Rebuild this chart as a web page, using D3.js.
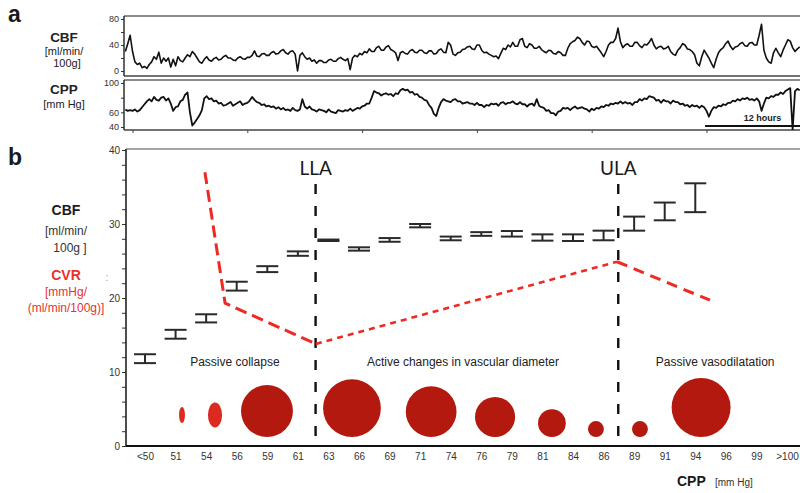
<!DOCTYPE html>
<html><head><meta charset="utf-8">
<script src="https://cdn.jsdelivr.net/npm/d3@7"></script>
<style>
body{margin:0;background:#fff}
svg{display:block;font-family:"Liberation Sans",Arial,Helvetica,sans-serif}
</style>
</head><body>
<svg id="chart" width="800" height="493"></svg>
<script>
// ---------- panel a: long-term recordings (sampled every 0.25 h from -0.8 h) ----------
const traceStart = -0.8, traceStep = 0.25;
const cbfTrace = [
  30,42,55,30,14,10,12,5,7,4, 10,14,22,18,29,12,20,15,20,6, 18,8,22,16,14,20,25,22,30,26,
  20,14,12,18,22,17,15,19,21,17, 18,22,24,20,20,17,16,20,22,19, 18,21,21,24,31,23,22,26,27,24,
  24,28,30,26,27,31,33,28,26,30, 31,26,0,24,28,22,18,20,15,17, 12,16,16,13,13,17,18,15,15,19,
  21,18,16,19,2,20,24,22,27,25, 30,28,34,30,30,36,38,32,32,37, 39,33,31,28,16,28,30,27,26,31,
  33,29,28,32,32,28,27,31,31,26, 27,32,34,29,28,44,40,26,24,28, 29,33,34,37,38,34,33,40,40,32,
  28,29,26,24,22,23,19,27,35,33, 40,37,44,38,38,48,50,38,36,42, 40,35,35,38,33,30,28,32,31,27,
  26,30,28,24,24,35,42,45,47,52, 50,44,40,46,45,38,36,38,33,28, 22,30,40,44,44,50,66,45,36,40,
  42,38,38,44,44,39,36,41,40,44, 50,40,34,37,38,34,35,38,30,26, 24,32,36,42,40,34,33,30,25,12,
  8,22,32,26,20,12,5,18,28,33, 36,42,46,38,33,37,38,42,44,39, 38,43,44,40,40,55,72,32,20,14,
  12,28,35,28,22,32,40,48,46,36, 30,34,37];
const cppTrace = [
  64,62,63,62,64,61,63,67,71,75, 78,75,81,77,76,80,81,76,79,72, 62,67,68,75,77,84,87,60,42,46,
  51,56,63,79,82,78,79,75,76,72, 73,69,70,72,74,69,71,73,75,70, 72,73,76,81,77,74,73,70,71,68,
  69,67,68,65,67,64,66,63,64,62, 66,63,62,64,78,68,65,68,64,63, 61,64,63,62,60,64,61,60,59,63,
  62,61,63,62,65,62,64,66,65,68, 69,72,72,80,89,87,86,83,85,86, 84,85,82,86,85,90,92,90,91,87,
  88,84,85,81,80,77,76,70,66,58, 55,66,74,78,76,75,74,77,78,75, 75,72,73,74,72,72,70,73,70,70,
  67,70,69,72,71,72,69,73,74,71, 73,73,75,72,71,74,71,71,68,71, 72,69,78,69,67,66,62,63,59,59,
  56,61,62,66,65,66,63,66,68,65, 66,67,65,64,61,65,63,66,65,68, 67,70,69,72,71,73,72,75,72,74,
  72,73,70,74,74,78,76,79,78,82, 81,80,76,77,73,77,75,75,72,76, 74,74,71,72,69,70,67,70,68,69,
  66,69,67,62,54,62,67,66,69,68, 71,70,73,73,76,75,78,76,79,78, 80,77,78,76,79,75,62,72,80,79,
  82,81,84,84,87,85,89,91,93,36, 89,92,90];
const timeTicks = [0,12,24,36,48,60];
const cbfTicksA = [0,20,40,60,80];
const cppTicksA = [40,60,80,100];

// ---------- panel b: CBF and CVR across CPP bins ----------
const cppBins = ["<50","51","54","56","59","61","63","66","69","71","74","76","79","81","84","86","89","91","94","96","99",">100"];
const cbfLow  = [11.2,14.5,16.7,21.0,23.5,25.7,27.7,26.4,27.6,29.55,27.8,28.4,28.3,27.75,27.7,27.8,29.1,30.5,31.6];
const cbfHigh = [12.4,15.7,17.8,22.2,24.3,26.3,27.9,26.85,28.1,30.0,28.3,28.9,29.05,28.6,28.6,29.1,31.0,32.9,35.5];
// CVR curve: position along the CPP bins and value
const cvrPos = [1.96,2.62,5.59,15.44,18.48];
const cvrVal = [37.0,19.3,13.8,24.9,19.7];
// autoregulation limits, as positions along the CPP bins
const limitNames = ["LLA","ULA"];
const limitPos = [5.58,15.48];
// vessel cross-sections (relative diameters, % of largest)
const vesselPos = [1.21,2.29,3.99,6.77,9.36,11.45,13.31,14.75,16.19,18.19];
const vesselW   = [10,24,88,98,86,68,47,27,27,100];
const vesselH   = [27,42,88,98,86,68,47,27,27,100];
const regionNames = ["Passive collapse","Active changes in vascular diameter","Passive vasodilatation"];
const regionPos = [2.94,10.4,18.65];
const yTicksB = d3.range(0,41,2);

const svg = d3.select("#chart");
const ink = "#1a1a1a";

// ===== panel a =====
const xT = d3.scaleLinear().domain([0,60]).range([133,707]);
const aLeft = 124, aRight = 800;
const cbfBox = {top:16,bottom:76}, cppBox = {top:80,bottom:130};
const yCbfA = d3.scaleLinear().domain([0,80]).range([71,19]);
const yCppA = d3.scaleLinear().domain([40,100]).range([127,83]);
const times = cbfTrace.map((_,i)=>traceStart + i*traceStep);

svg.append("text").attr("x",8).attr("y",22).attr("font-size",23).attr("font-weight","bold").attr("fill",ink).text("a");

const defs = svg.append("defs");
[["clipCbf",cbfBox],["clipCpp",cppBox]].forEach(([id,b])=>{
  defs.append("clipPath").attr("id",id).append("rect")
    .attr("x",aLeft).attr("y",b.top).attr("width",aRight-aLeft).attr("height",b.bottom-b.top);
});

function boxFrame(b){
  svg.append("line").attr("x1",aLeft).attr("x2",aRight).attr("y1",b.top).attr("y2",b.top)
    .attr("stroke","#666").attr("stroke-width",1.6);
  svg.append("line").attr("x1",aLeft).attr("x2",aRight).attr("y1",b.bottom).attr("y2",b.bottom)
    .attr("stroke","#444").attr("stroke-width",1.4);
}
boxFrame(cbfBox); boxFrame(cppBox);

const lineCbf = d3.line().x((d,i)=>xT(times[i])).y(d=>yCbfA(d));
const lineCpp = d3.line().x((d,i)=>xT(times[i])).y(d=>yCppA(d));
svg.append("path").datum(cbfTrace).attr("d",lineCbf).attr("clip-path","url(#clipCbf)")
  .attr("fill","none").attr("stroke","#111").attr("stroke-width",1.6).attr("stroke-linejoin","round");
svg.append("path").datum(cppTrace).attr("d",lineCpp).attr("clip-path","url(#clipCpp)")
  .attr("fill","none").attr("stroke","#111").attr("stroke-width",1.8).attr("stroke-linejoin","round");

function leftAxisA(scale,ticks,labelled,b){
  const g = svg.append("g").attr("transform",`translate(${aLeft},0)`)
    .call(d3.axisLeft(scale).tickValues(ticks).tickSize(3).tickPadding(2)
      .tickFormat(d=>labelled.includes(d)?d:""));
  g.select(".domain").remove();
  g.selectAll("text").attr("font-size",9).attr("fill","#333").attr("font-family","Liberation Sans, Arial, sans-serif");
  g.selectAll("line").attr("stroke","#333");
  svg.append("line").attr("x1",aLeft).attr("x2",aLeft).attr("y1",b.top).attr("y2",b.bottom)
    .attr("stroke","#222").attr("stroke-width",1.4);
}
leftAxisA(yCbfA,cbfTicksA,[0,40,80],cbfBox);
leftAxisA(yCppA,cppTicksA,[40,60,100],cppBox);

// time ticks under the CPP strip
svg.append("g").selectAll("line").data(timeTicks).join("line")
  .attr("x1",d=>xT(d)).attr("x2",d=>xT(d)).attr("y1",cppBox.bottom).attr("y2",cppBox.bottom+3)
  .attr("stroke","#444").attr("stroke-width",1);

// 12-hour scale bar
svg.append("line").attr("x1",xT(59.8)).attr("x2",xT(71.8)).attr("y1",126).attr("y2",126)
  .attr("stroke","#111").attr("stroke-width",2);
svg.append("text").attr("x",xT(65.8)).attr("y",121).attr("text-anchor","middle")
  .attr("font-size",9).attr("font-weight","bold").attr("fill","#222").text("12 hours");

// strip labels
const aLabels = [
  {t:"CBF",y:42,b:true},{t:"[ml/min/",y:55},{t:"100g]",y:67,dx:3},
  {t:"CPP",y:94,b:true},{t:"[mm Hg]",y:108}
];
svg.append("g").selectAll("text").data(aLabels).join("text")
  .attr("x",d=>64+(d.dx||0)).attr("y",d=>d.y).attr("text-anchor","middle")
  .attr("font-size",d=>d.b?13.5:11).attr("font-weight",d=>d.b?"bold":"normal")
  .attr("fill","#222").text(d=>d.t);

// ===== panel b =====
const x = d3.scaleLinear().domain([0,21]).range([145,787]);
const xBand = d3.scalePoint().domain(cppBins).range([145,787]);
const y = d3.scaleLinear().domain([0,40]).range([446,150]);
const bLeft = 126, bRight = 800;

svg.append("text").attr("x",8).attr("y",165).attr("font-size",23).attr("font-weight","bold").attr("fill",ink).text("b");

// frame
svg.append("line").attr("x1",bLeft).attr("x2",bRight).attr("y1",149).attr("y2",149)
  .attr("stroke","#888").attr("stroke-width",1.6);

// y axis
const gy = svg.append("g").attr("transform",`translate(${bLeft},0)`)
  .call(d3.axisLeft(y).tickValues(yTicksB).tickSize(4).tickPadding(2)
    .tickFormat(d=>d%10===0?d:""));
gy.select(".domain").remove();
gy.selectAll("line").attr("stroke","#333");
gy.selectAll("text").attr("font-size",10).attr("fill","#333").attr("font-family","Liberation Sans, Arial, sans-serif");
svg.append("line").attr("x1",bLeft).attr("x2",bLeft).attr("y1",149).attr("y2",y(0))
  .attr("stroke","#222").attr("stroke-width",1.6);

// x axis
const gx = svg.append("g").attr("transform",`translate(0,${y(0)})`)
  .call(d3.axisBottom(xBand).tickSize(0).tickPadding(7));
gx.select(".domain").remove();
gx.selectAll("text").attr("font-size",10).attr("fill","#333").attr("font-family","Liberation Sans, Arial, sans-serif");
svg.append("line").attr("x1",bLeft).attr("x2",bRight).attr("y1",y(0)).attr("y2",y(0))
  .attr("stroke","#111").attr("stroke-width",2);

// axis titles
svg.append("text").attr("x",677).attr("y",486).attr("font-size",14).attr("font-weight","bold").attr("fill",ink).text("CPP");
svg.append("text").attr("x",715).attr("y",486).attr("font-size",10).attr("fill","#333").text("[mm Hg]");

const bLabels = [
  {t:"CBF",y:215,b:true,c:ink},{t:"[ml/min/",y:235,c:"#333"},{t:"100g ]",y:252,dx:4,c:"#333"},
  {t:"CVR",y:280,b:true,c:"#e8322b"},{t:"[mmHg/",y:296,c:"#e8322b"},{t:"(ml/min/100g)]",y:312,c:"#e8322b"}
];
svg.append("g").selectAll("text").data(bLabels).join("text")
  .attr("x",d=>66+(d.dx||0)).attr("y",d=>d.y).attr("text-anchor","middle")
  .attr("font-size",d=>d.b?14:12).attr("font-weight",d=>d.b?"bold":"normal")
  .attr("fill",d=>d.c).text(d=>d.t);
svg.append("text").attr("x",107).attr("y",281).attr("text-anchor","middle").attr("font-size",10).attr("fill","#999").text(":");

// autoregulation limits
svg.append("g").selectAll("line").data(limitPos).join("line")
  .attr("x1",d=>x(d)).attr("x2",d=>x(d)).attr("y1",184).attr("y2",y(0)-4)
  .attr("stroke","#111").attr("stroke-width",2.4).attr("stroke-dasharray","10,12");
svg.append("g").selectAll("text").data(limitNames).join("text")
  .attr("x",(d,i)=>x(limitPos[i])).attr("y",175).attr("text-anchor","middle")
  .attr("font-family","Lato, 'Open Sans', sans-serif").attr("font-size",19).attr("fill",ink).text(d=>d);

// vessels
const dScale = d3.scaleLinear().domain([0,100]).range([0,59]);
const vessels = vesselPos.map((p,i)=>({p,w:vesselW[i],h:vesselH[i]}));
svg.append("g").selectAll("ellipse").data(vessels).join("ellipse")
  .attr("cx",d=>x(d.p))
  .attr("cy",d=>d.w<d.h ? 415 : 437 - dScale(d.h)/2)
  .attr("rx",d=>dScale(d.w)/2).attr("ry",d=>dScale(d.h)/2)
  .attr("fill",d=>d.w<d.h ? "#dc2a20" : "#b3190f");

// region labels
svg.append("g").selectAll("text").data(regionNames).join("text")
  .attr("x",(d,i)=>x(regionPos[i])).attr("y",366).attr("text-anchor","middle")
  .attr("font-size",12).attr("fill","#222").text(d=>d);

// CVR dashed curve (three runs)
const cvrPts = cvrPos.map((p,i)=>[x(p),y(cvrVal[i])]);
const runs = [
  {pts:cvrPts.slice(0,3),dash:"12,6",w:3},
  {pts:cvrPts.slice(2,4),dash:"6,5",w:2.6},
  {pts:cvrPts.slice(3,5),dash:"11,7",w:3}
];
svg.append("g").selectAll("path").data(runs).join("path")
  .attr("d",d=>d3.line()(d.pts)).attr("fill","none").attr("stroke","#ee2a24")
  .attr("stroke-width",d=>d.w).attr("stroke-dasharray",d=>d.dash);

// CBF range bars
const bars = cbfLow.map((lo,i)=>({i,lo,hi:cbfHigh[i]}));
const cap = 11;
const gb = svg.append("g").attr("stroke","#2a2a2a").attr("stroke-width",2);
gb.selectAll("line.top").data(bars).join("line").attr("class","top")
  .attr("x1",d=>x(d.i)-cap).attr("x2",d=>x(d.i)+cap).attr("y1",d=>y(d.hi)).attr("y2",d=>y(d.hi));
gb.selectAll("line.bot").data(bars).join("line").attr("class","bot")
  .attr("x1",d=>x(d.i)-cap).attr("x2",d=>x(d.i)+cap).attr("y1",d=>y(d.lo)).attr("y2",d=>y(d.lo));
gb.selectAll("line.stem").data(bars).join("line").attr("class","stem")
  .attr("x1",d=>x(d.i)).attr("x2",d=>x(d.i)).attr("y1",d=>y(d.lo)).attr("y2",d=>y(d.hi));
</script>
</body></html>
